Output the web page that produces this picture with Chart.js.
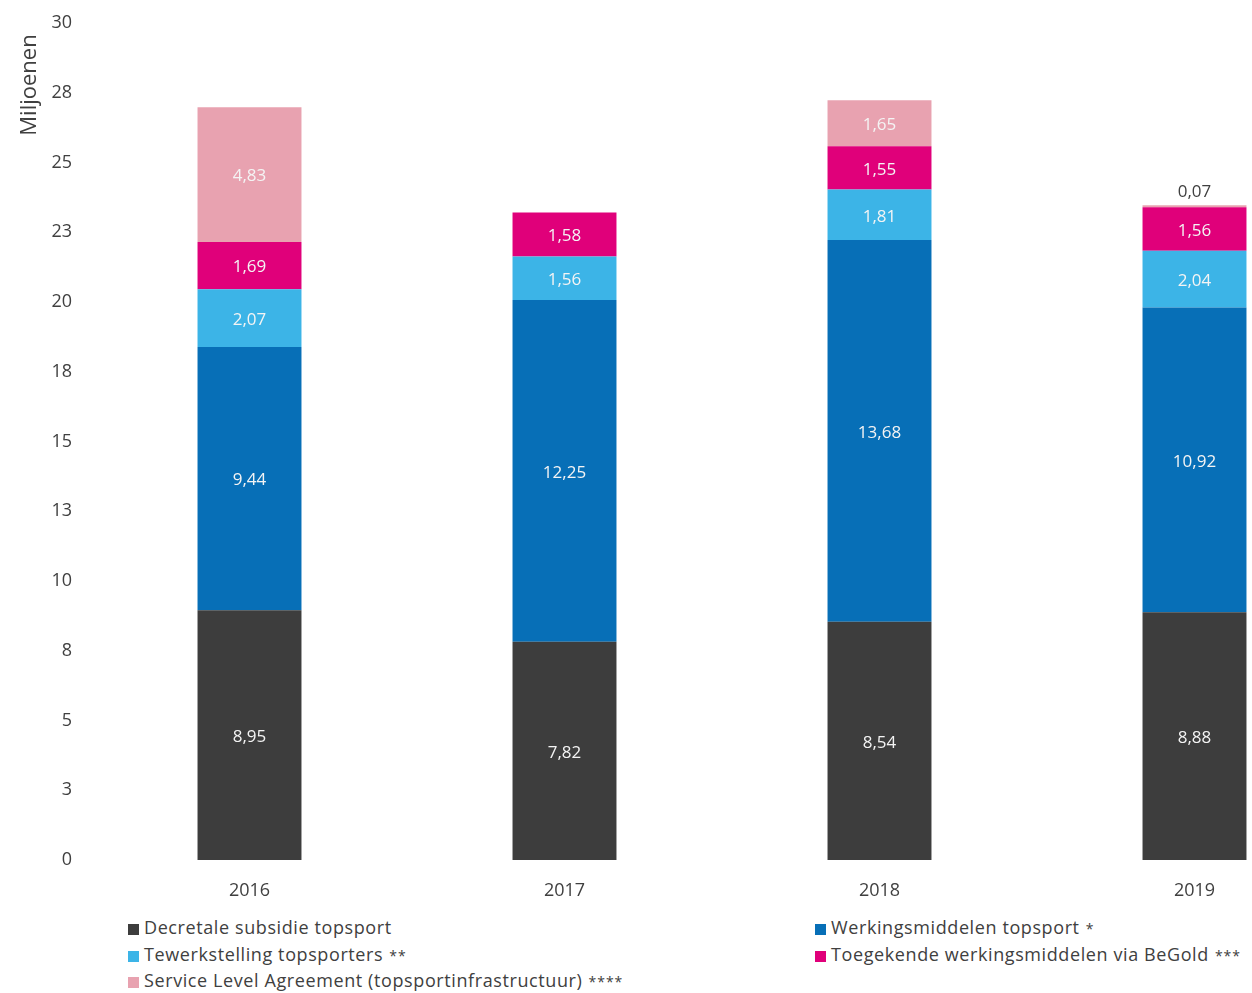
<!DOCTYPE html>
<html>
<head>
<meta charset="utf-8">
<style>
  html, body { margin: 0; padding: 0; background: #fff; }
  #wrap { position: relative; width: 1252px; height: 993px; overflow: hidden; }
  #wrap canvas { position: absolute; left: 0; top: 0; }
  #legend {
    position: absolute; left: 128px; top: 914px;
    display: grid; grid-template-columns: 687px auto;
    font-family: "Open Sans", sans-serif; font-size: 18px; color: #404040;
    letter-spacing: 0.6px;
  }
  #legend .item { height: 26.5px; line-height: 26.5px; white-space: nowrap; }
  #legend .box { display: inline-block; width: 11px; height: 11px; margin-right: 5px; vertical-align: -1px; }
  #legend .stars { font-size: 14px; margin-left: 6px; letter-spacing: 1px; }
</style>
</head>
<body>
<div id="wrap">
  <canvas id="topsportChart" width="1352" height="905"></canvas>
  <div id="legend"></div>
</div>

<script src="https://cdn.jsdelivr.net/npm/chart.js"></script>
<script>
// Jaren en bedragen (miljoen euro)
const jaren = ['2016', '2017', '2018', '2019'];
const decretaleSubsidie = [8.95, 7.82, 8.54, 8.88];
const werkingsmiddelen = [9.44, 12.25, 13.68, 10.92];
const tewerkstelling = [2.07, 1.56, 1.81, 2.04];
const beGold = [1.69, 1.58, 1.55, 1.56];
const serviceLevel = [4.83, null, 1.65, 0.07];
const yTicks = [0, 2.5, 5, 7.5, 10, 12.5, 15, 17.5, 20, 22.5, 25, 27.5, 30];

const reeksen = [
  { label: 'Decretale subsidie topsport', stars: '', data: decretaleSubsidie, color: '#3d3d3d' },
  { label: 'Werkingsmiddelen topsport', stars: '*', data: werkingsmiddelen, color: '#076fb7' },
  { label: 'Tewerkstelling topsporters', stars: '**', data: tewerkstelling, color: '#3cb4e7' },
  { label: 'Toegekende werkingsmiddelen via BeGold', stars: '***', data: beGold, color: '#e0007a' },
  { label: 'Service Level Agreement (topsportinfrastructuur)', stars: '****', data: serviceLevel, color: '#e8a2b0' }
];

const tekstKleur = '#404040';
const font = '"Open Sans", sans-serif';

// Waarden in de staven
const waardeLabels = {
  id: 'waardeLabels',
  afterDatasetsDraw(chart) {
    const ctx = chart.ctx;
    ctx.save();
    ctx.font = '17px ' + font;
    ctx.textAlign = 'center';
    ctx.textBaseline = 'middle';
    chart.data.datasets.forEach((ds, i) => {
      chart.getDatasetMeta(i).data.forEach((bar, j) => {
        const v = ds.data[j];
        if (v == null) return;
        const txt = v.toFixed(2).replace('.', ',');
        const h = Math.abs(bar.base - bar.y);
        if (h < 20) {
          ctx.fillStyle = tekstKleur;
          ctx.fillText(txt, bar.x, bar.y - 13);
        } else {
          ctx.fillStyle = '#f4f4f4';
          ctx.fillText(txt, bar.x, (bar.y + bar.base) / 2 + 2);
        }
      });
    });
    ctx.restore();
  }
};

// As-titel bovenaan links
const asTitel = {
  id: 'asTitel',
  afterDraw(chart) {
    const ctx = chart.ctx;
    ctx.save();
    ctx.translate(30, 85);
    ctx.rotate(-Math.PI / 2);
    ctx.font = '22px ' + font;
    ctx.fillStyle = tekstKleur;
    ctx.textAlign = 'center';
    ctx.textBaseline = 'middle';
    ctx.fillText('Miljoenen', 0, 0);
    ctx.restore();
  }
};

const ctx = document.getElementById('topsportChart').getContext('2d');
const chart = new Chart(ctx, {
  type: 'bar',
  data: {
    labels: jaren,
    datasets: reeksen.map(r => ({
      label: r.label,
      data: r.data,
      backgroundColor: r.color,
      borderWidth: 0,
      categoryPercentage: 0.33,
      barPercentage: 1
    }))
  },
  options: {
    responsive: false,
    animation: false,
    layout: { padding: { top: 23, left: 0, right: 0, bottom: 0 } },
    plugins: { legend: { display: false }, tooltip: { enabled: false } },
    scales: {
      x: {
        stacked: true,
        grid: { display: false, drawTicks: false },
        border: { display: false },
        ticks: { color: tekstKleur, font: { family: font, size: 18 }, padding: 20 },
        afterFit(scale) { scale.height = 45; }
      },
      y: {
        stacked: true,
        min: 0,
        max: 30,
        grid: { display: false, drawTicks: false },
        border: { display: false },
        afterBuildTicks(scale) { scale.ticks = yTicks.map(v => ({ value: v })); },
        ticks: {
          color: tekstKleur,
          font: { family: font, size: 18 },
          padding: 20,
          callback: v => Math.round(v)
        },
        afterFit(scale) {
          scale.width = 92;
          scale.paddingTop = 0;
          scale.paddingBottom = 0;
        }
      }
    }
  },
  plugins: [waardeLabels, asTitel]
});

// Legende in twee kolommen
const legend = document.getElementById('legend');
reeksen.forEach(r => {
  const item = document.createElement('div');
  item.className = 'item';
  item.innerHTML = '<span class="box" style="background:' + r.color + '"></span>' + r.label +
    (r.stars ? '<span class="stars">' + r.stars + '</span>' : '');
  legend.appendChild(item);
});
</script>
</body>
</html>
